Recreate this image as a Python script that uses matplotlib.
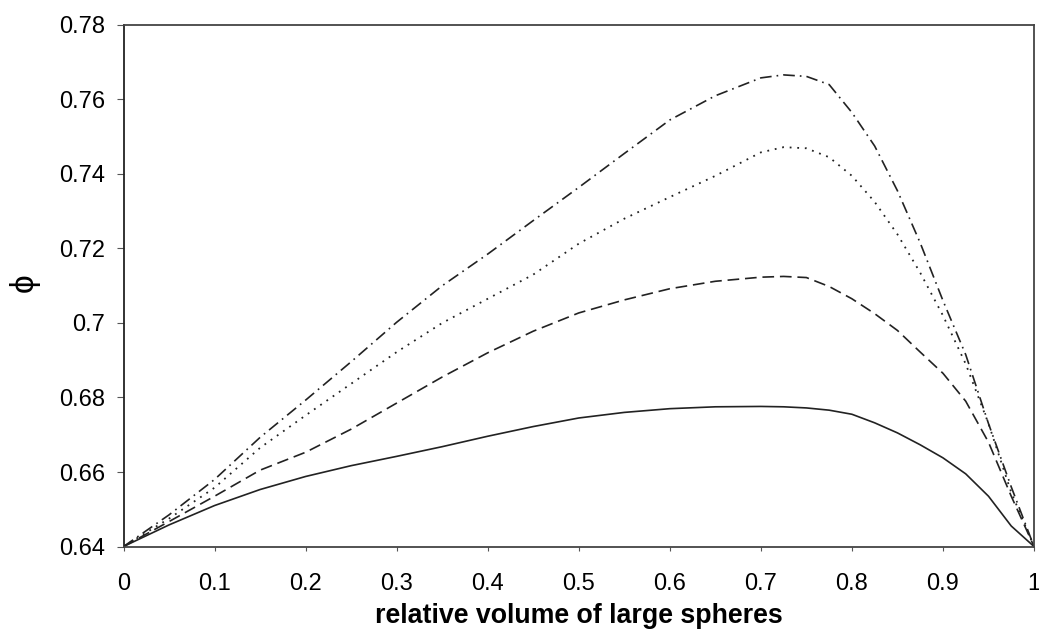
import matplotlib
matplotlib.use("Agg")
import matplotlib.pyplot as plt

# relative volume of large spheres
vol = [0.0, 0.05, 0.1, 0.15, 0.2, 0.25, 0.3, 0.35, 0.4, 0.45, 0.5, 0.55,
       0.6, 0.65, 0.7, 0.725, 0.75, 0.775, 0.8, 0.825, 0.85, 0.875, 0.9,
       0.925, 0.95, 0.975, 1.0]

# packing fraction for each size ratio
phi_solid = [0.640, 0.6458, 0.6510, 0.6553, 0.6588, 0.6617, 0.6642, 0.6668,
             0.6696, 0.6722, 0.6745, 0.6760, 0.6770, 0.6775, 0.6776, 0.6775,
             0.6772, 0.6766, 0.6755, 0.6732, 0.6705, 0.6673, 0.6638, 0.6595,
             0.6535, 0.6455, 0.640]
phi_dashed = [0.640, 0.6467, 0.6535, 0.6605, 0.6653, 0.6715, 0.6785, 0.6855,
              0.6920, 0.6978, 0.7027, 0.7062, 0.7092, 0.7112, 0.7123, 0.7125,
              0.7122, 0.7098, 0.7065, 0.7025, 0.6980, 0.6922, 0.6865, 0.6790,
              0.6680, 0.6535, 0.640]
phi_dotted = [0.640, 0.6475, 0.6558, 0.6665, 0.6752, 0.6837, 0.6922, 0.7000,
              0.7065, 0.7130, 0.7213, 0.7280, 0.7338, 0.7395, 0.7458, 0.7472,
              0.7469, 0.7445, 0.7395, 0.7325, 0.7238, 0.7135, 0.7020, 0.6890,
              0.6730, 0.6545, 0.640]
phi_dashdot = [0.640, 0.6485, 0.6580, 0.6693, 0.6793, 0.6896, 0.7002, 0.7100,
               0.7185, 0.7275, 0.7364, 0.7455, 0.7545, 0.7610, 0.7658, 0.7666,
               0.7662, 0.7640, 0.7565, 0.7475, 0.7355, 0.7215, 0.7060, 0.6915,
               0.6730, 0.6560, 0.640]

xticks = [0, 0.1, 0.2, 0.3, 0.4, 0.5, 0.6, 0.7, 0.8, 0.9, 1]
xtick_labels = ["0", "0.1", "0.2", "0.3", "0.4", "0.5", "0.6", "0.7", "0.8", "0.9", "1"]
yticks = [0.64, 0.66, 0.68, 0.70, 0.72, 0.74, 0.76, 0.78]
ytick_labels = ["0.64", "0.66", "0.68", "0.7", "0.72", "0.74", "0.76", "0.78"]

plt.rcParams['font.family'] = ['Liberation Sans', 'DejaVu Sans']

fig = plt.figure(figsize=(10.39, 6.34), dpi=100)
ax = fig.add_axes([0.1189, 0.138, 0.8763, 0.8226])

lc = '#222222'
ax.plot(vol, phi_solid, color=lc, lw=1.2, linestyle='-')
ax.plot(vol, phi_dashed, color=lc, lw=1.2, linestyle=(0, (7, 3.5)))
ax.plot(vol, phi_dotted, color=lc, lw=1.3, linestyle=(0, (1, 3.2)))
ax.plot(vol, phi_dashdot, color=lc, lw=1.2, linestyle=(0, (7, 3, 1, 3)))

ax.set_xlim(0, 1)
ax.set_ylim(0.64, 0.78)
ax.set_xticks(xticks)
ax.set_xticklabels(xtick_labels)
ax.set_yticks(yticks)
ax.set_yticklabels(ytick_labels)
ax.tick_params(axis='both', labelsize=17, colors='#555555', labelcolor='black')
ax.tick_params(axis='y', length=5, width=0.8, pad=8)
ax.tick_params(axis='x', length=3, width=0.8, pad=16)

for side in ['left', 'bottom', 'top', 'right']:
    ax.spines[side].set_linewidth(1.3)
    ax.spines[side].set_color('#444444')
ax.spines['left'].set_color('#222222')

ax.set_xlabel('relative volume of large spheres', fontsize=19.3, fontweight='bold',
              labelpad=6)
ax.set_ylabel('\u03d5', fontsize=24, rotation=90)
ax.yaxis.set_label_coords(-0.092, 0.505)

plt.savefig('out.png', dpi=100)
